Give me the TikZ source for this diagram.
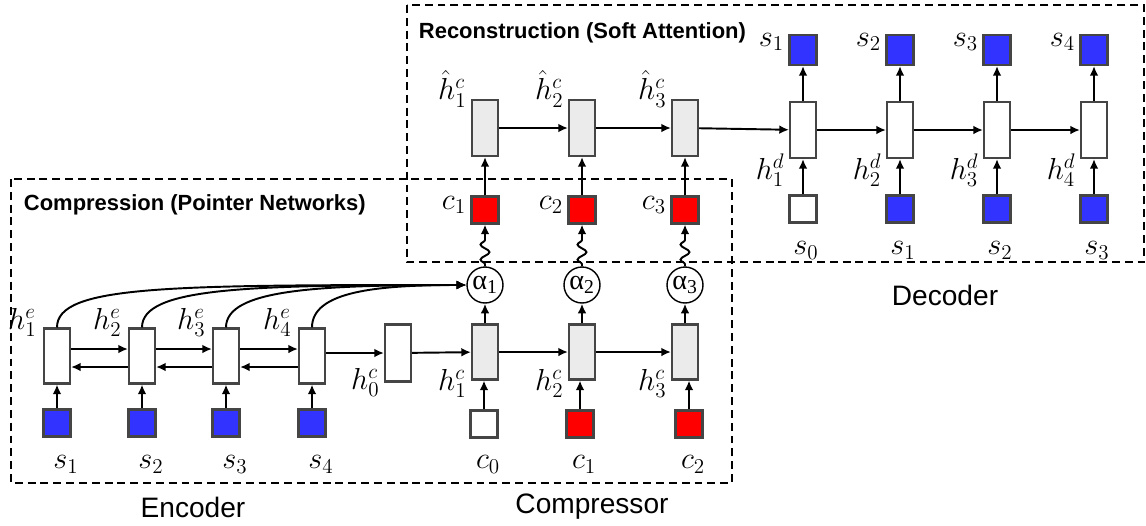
\documentclass[tikz,border=0pt]{standalone}
\usepackage{fontspec}
\setmainfont{Liberation Sans}
\newfontfamily\symfont{Liberation Serif}
\usetikzlibrary{arrows.meta}
\usetikzlibrary{decorations.pathmorphing}
\usetikzlibrary{positioning}

\definecolor{tokblue}{HTML}{3333FF}
\definecolor{tokred}{HTML}{FF0000}
\definecolor{cellgray}{HTML}{EBEBEB}
\definecolor{edgegray}{HTML}{454545}

\begin{document}
\begin{tikzpicture}[x=0.02cm, y=-0.02cm,
  >={Latex[length=5.5pt,width=5pt]},
  every path/.style={line width=1.1pt},
  cell/.style={draw=edgegray, fill=white, line width=1.2pt, minimum width=0.52cm, minimum height=1.1cm, inner sep=0pt},
  ccell/.style={cell, fill=cellgray},
  tok/.style={draw=edgegray, fill=white, line width=1.2pt, minimum width=0.54cm, minimum height=0.54cm, inner sep=0pt},
  circ/.style={draw=black, circle, line width=0.8pt, minimum size=0.72cm, inner sep=0pt, font=\symfont\fontsize{16}{16}\selectfont},
  lab/.style={font=\fontsize{18}{18}\selectfont, inner sep=2pt},
  title/.style={font=\bfseries\fontsize{12.5}{14}\selectfont, inner sep=0pt, anchor=west},
  caption/.style={font=\fontsize{16}{18}\selectfont},
  dashbox/.style={draw=black, line width=1.5pt, dash pattern=on 4.5pt off 2.8pt},
  wave/.style={->, decorate, decoration={snake, amplitude=0.09cm, segment length=0.3cm, pre length=0.04cm, post length=0.16cm}}]
\useasboundingbox (0,0) rectangle (1146,525);

% Boxes
\draw[dashbox] (11,179) rectangle (732,483);
\draw[dashbox] (407,5) rectangle (1144,262);
\node[title] (tcomp) at (23,205) {Compression (Pointer Networks)};
\node[title] (trec) at (418,33) {Reconstruction (Soft Attention)};

% Encoder
\foreach \i/\x in {1/57, 2/142, 3/226, 4/312} {
  \node[cell] (e\i) at (\x,356) {};
  \node[tok, fill=tokblue] (es\i) at (\x,423) {};
  \node[lab] (les\i) at ([xshift=0.18cm, yshift=-0.54cm]es\i.south) {$s_\i$};
  \node[lab, anchor=east] (le\i) at ([xshift=-0.04cm, yshift=0.1cm]e\i.north west) {$h^e_\i$};
  \draw[->] (es\i) -- (e\i);
}
\foreach \i/\j in {1/2, 2/3, 3/4} {
  \draw[->] ([yshift=0.14cm]e\i.east) -- ([yshift=0.14cm]e\j.west);
  \draw[->] ([yshift=-0.22cm]e\j.west) -- ([yshift=-0.22cm]e\i.east);
}

% Compressor
\node[cell, minimum height=1.14cm] (hc0) at (398,353) {};
\node[lab, anchor=east] (lhc0) at (hc0.south west) {$h^c_0$};
\draw[->] (e4.east |- hc0.west) -- (hc0.west);
\foreach \i/\x in {1/485, 2/582, 3/685} {
  \node[ccell] (hc\i) at (\x,352) {};
  \node[lab, anchor=east] (lhc\i) at ([yshift=-0.06cm]hc\i.south west) {$h^c_\i$};
  \node[circ] (a\i) at (\x,285) {α\textsubscript{\i}};
  \node[tok, fill=tokred] (cc\i) at (\x,210) {};
  \node[lab, anchor=east] (lcc\i) at ([yshift=0.1cm]cc\i.west) {$c_\i$};
  \draw[->] (hc\i) -- (a\i);
  \draw[wave] (a\i.north) -- (cc\i.south);
}
\draw[->] (hc0) -- (hc1);
\draw[->] (hc1) -- (hc2);
\draw[->] (hc2) -- (hc3);
\node[tok] (ci0) at (484,424) {};
\node[tok, fill=tokred] (ci1) at (580,424) {};
\node[tok, fill=tokred] (ci2) at (689,424) {};
\foreach \j/\i in {0/1, 1/2, 2/3} {
  \node[lab] (lci\j) at ([xshift=0.08cm, yshift=-0.52cm]ci\j.south) {$c_\j$};
  \draw[->] (ci\j) -- (ci\j |- hc\i.south);
}

% Pointers
\draw[->] (e1.north) .. controls +(0,-42) and +(-300,0) .. (a1.west);
\draw[->] (e2.north) .. controls +(0,-40) and +(-220,0) .. (a1.west);
\draw[->] (e3.north) .. controls +(0,-38) and +(-150,0) .. (a1.west);
\draw[->] (e4.north) .. controls +(0,-36) and +(-90,0) .. (a1.west);

% Reconstruction
\foreach \i/\x in {1/485, 2/582, 3/685} {
  \node[ccell, minimum height=1.12cm] (r\i) at (\x,128) {};
  \node[lab, anchor=east] (lr\i) at ([yshift=0.2cm]r\i.north west) {$\hat{h}^c_\i$};
  \draw[->] (cc\i) -- (r\i);
}
\draw[->] (r1) -- (r2);
\draw[->] (r2) -- (r3);

% Decoder
\foreach \i/\j/\x/\col in {1/0/803/white, 2/1/900/tokblue, 3/2/997/tokblue, 4/3/1094/tokblue} {
  \node[cell, minimum height=1.12cm] (d\i) at (\x,130) {};
  \node[tok, fill=tokblue, minimum height=0.6cm] (do\i) at (\x,50) {};
  \node[tok, fill=\col] (di\j) at (\x,209) {};
  \node[lab, anchor=east] (ldo\i) at ([yshift=0.16cm]do\i.west) {$s_\i$};
  \node[lab, anchor=east] (ld\i) at ([yshift=-0.22cm]d\i.south west) {$h^d_\i$};
  \node[lab] (ldi\j) at ([xshift=0.06cm, yshift=-0.54cm]di\j.south) {$s_\j$};
  \draw[->] (di\j) -- (d\i);
  \draw[->] (d\i) -- (do\i);
}
\draw[->] (r3) -- (d1);
\draw[->] (d1) -- (d2);
\draw[->] (d2) -- (d3);
\draw[->] (d3) -- (d4);

% Captions
\node[caption] (cenc) at (193,507) {Encoder};
\node[caption] (ccomp) at (592,507) {Compressor};
\node[caption] (cdec) at (945,295) {Decoder};
\end{tikzpicture}
\end{document}
